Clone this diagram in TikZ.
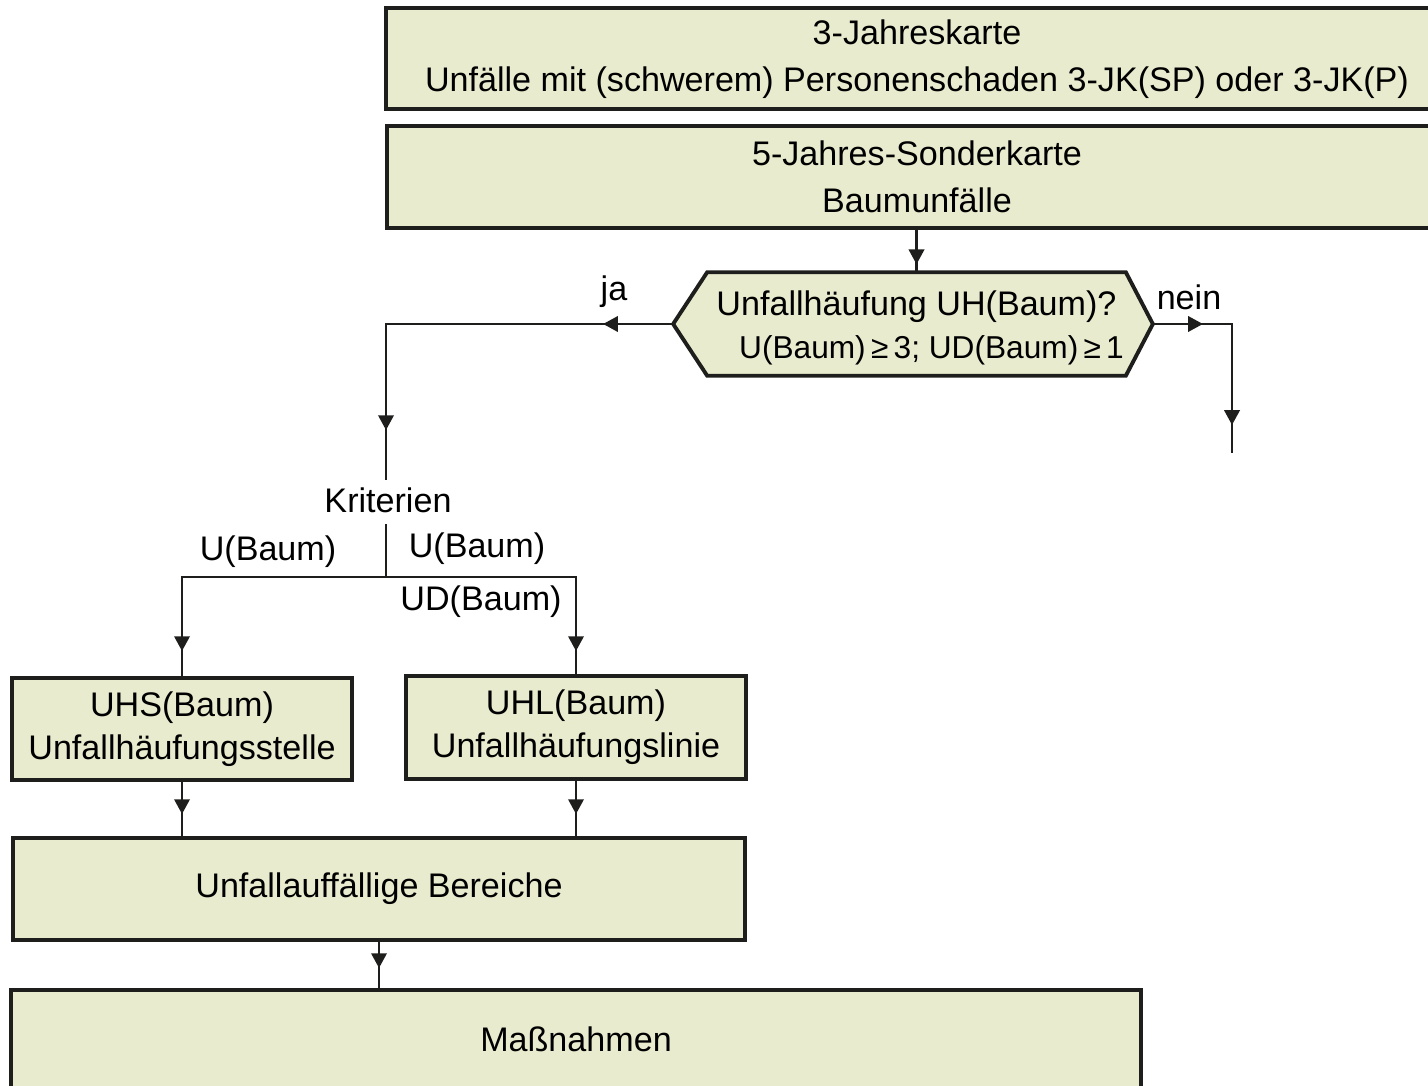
\documentclass[tikz,border=0pt]{standalone}
\usepackage{fontspec}
\setmainfont{Liberation Sans}
\usetikzlibrary{arrows.meta,decorations.markings}
\definecolor{kastenfarbe}{RGB}{233,235,206}
\definecolor{strich}{RGB}{30,30,28}
\def\schrift{\fontsize{9.7}{13.4}\selectfont}
\def\engschrift{\fontsize{9.7}{12.2}\selectfont}
\def\linie{\draw[verbinder]}

\begin{document}
\begin{tikzpicture}[x=0.01cm,y=-0.01cm,
    kasten/.style={draw=strich,line width=1.1pt,fill=kastenfarbe,align=center,inner sep=0pt,font=\schrift},
    verbinder/.style={draw=strich,line width=0.6pt},
    spitze/.style={postaction={decorate,decoration={markings,
        mark=at position #1 with {\arrow{Triangle[length=4.2pt,width=4.4pt]}}}}},
    beschriftung/.style={inner sep=1pt,font=\schrift}]
    \clip (0,0) rectangle (1428,1086);
    % Karten oben
    \node[kasten,minimum width=10.62cm,minimum height=1.01cm] (jk3) at (917,58.5)
        {\\[-1.2ex]3-Jahreskarte\\Unfälle mit (schwerem) Personenschaden 3-JK(SP) oder 3-JK(P)};
    \node[kasten,minimum width=10.60cm,minimum height=1.02cm] (jk5) at (917,177)
        {5-Jahres-Sonderkarte\\Baumunfälle};
    % Abfrage
    \node[minimum width=4.17cm,minimum height=1.02cm,inner sep=0pt] (hex) at (916.5,324) {};
    \coordinate (hexL) at ([xshift=-0.34cm]hex.west);
    \coordinate (hexR) at ([xshift=0.27cm]hex.east);
    \draw[draw=strich,line width=1.1pt,fill=kastenfarbe] (hexL) -- (hex.north west) -- (hex.north east)
        -- (hexR) -- (hex.south east) -- (hex.south west) -- cycle;
    \node[align=center,inner sep=0pt,font=\engschrift] (frage) at ([yshift=-0.035cm]hex)
        {Unfallhäufung UH(Baum)?\\{\fontsize{9}{10}\selectfont\hspace{0.3cm}U(Baum)\,≥\,3; UD(Baum)\,≥\,1}};
    \node[beschriftung] (ja) at (614,292) {ja};
    \node[beschriftung] (nein) at (1189,297) {nein};
    \coordinate (jaEnde) at (386,480);
    \coordinate (neinEnde) at (1232,453);
    % Kriterien
    \node[beschriftung,inner sep=3pt] (krit) at (388,500) {Kriterien};
    \coordinate (verteiler) at (386,577);
    \node[beschriftung] (ul) at (268,552) {U(Baum)};
    \node[beschriftung] (ur) at (477,549) {U(Baum)};
    \node[beschriftung] (udr) at (481,602) {UD(Baum)};
    % Ergebnisse
    \node[kasten,font=\engschrift,minimum width=3.40cm,minimum height=1.02cm] (uhs) at (182,729)
        {UHS(Baum)\\Unfallhäufungsstelle};
    \node[kasten,font=\engschrift,minimum width=3.39cm,minimum height=1.03cm] (uhl) at (576,727.5)
        {UHL(Baum)\\Unfallhäufungslinie};
    \node[kasten,minimum width=7.32cm,minimum height=1.02cm] (bereich) at (379,889)
        {Unfallauffällige Bereiche};
    \node[kasten,minimum width=11.30cm,minimum height=0.98cm] (mass) at (576,1039)
        {Maßnahmen};
    % Verbindungen
    \linie[spitze=-0.08cm] (jk5.south -| hex.north) -- (hex.north);
    \linie[spitze=0.70cm,spitze=3.93cm] (hexL) -| (jaEnde);
    \linie[spitze=0.50cm,spitze=-0.28cm] (hexR) -| (neinEnde);
    \linie (krit.south -| verteiler) -- (verteiler);
    \linie[spitze=-0.25cm] (verteiler) -| (uhs.north);
    \linie[spitze=-0.23cm] (verteiler) -| (uhl.north);
    \linie[spitze=-0.22cm] (uhs.south) -- (uhs.south |- bereich.north);
    \linie[spitze=-0.22cm] (uhl.south) -- (uhl.south |- bereich.north);
    \linie[spitze=-0.20cm] (bereich.south) -- (bereich.south |- mass.north);
\end{tikzpicture}
\end{document}
